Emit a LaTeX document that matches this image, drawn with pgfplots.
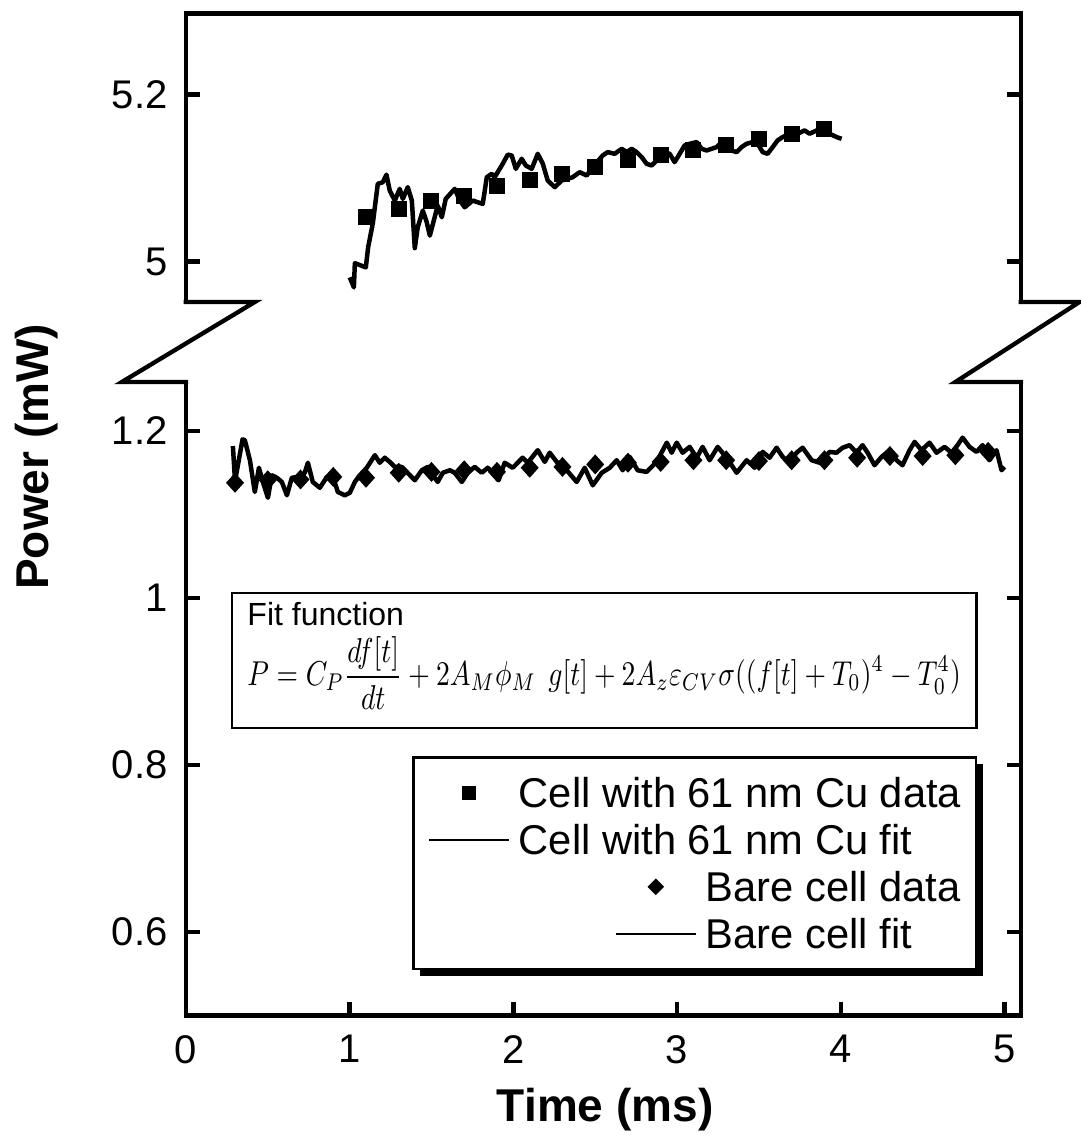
\documentclass[border=0pt]{standalone}
\usepackage{fontspec}
\setmainfont{Liberation Sans}
\usepackage{graphicx}
\usepackage{pgfplots}
\pgfplotsset{compat=1.18}
\usetikzlibrary{shadows}

% offset that puts the upper (5 mW) band just above the lower band
\def\off{3.597}

% legend glyphs, set inside the legend text
\newcommand{\limgbox}[1]{\makebox[24pt]{#1}\hspace{3pt}}
\newcommand{\limgsq}{\limgbox{\raisebox{\dimexpr0.358em-2.1pt}{\rule{4.2pt}{4.2pt}}}}
\newcommand{\limgline}{\limgbox{\rule[\dimexpr0.358em-0.35pt]{24pt}{0.7pt}}}
\newcommand{\limgdia}{\limgbox{\raisebox{\dimexpr0.358em-2.5pt}{\rotatebox{45}{\rule{3.54pt}{3.54pt}}}}}
\newcommand{\lind}{\hspace{56.1pt}}

\begin{document}
\begin{tikzpicture}
\begin{axis}[
  scale only axis,
  width=250.5pt, height=300.6pt,
  xmin=0, xmax=5.1, ymin=0.5, ymax=1.7,
  xtick={0,1,2,3,4,5}, xticklabels={0,1,2,3,4,5},
  ytick={0.6,0.8,1.0,1.2,1.403,1.603},
  yticklabels={0.6,0.8,1,1.2,5,5.2},
  xtick pos=left, ytick pos=both,
  tick align=inside, major tick length=4.2pt,
  every tick/.style={black, line width=1.3pt},
  axis line style={line width=1.3pt},
  tick label style={font=\fontsize{12}{14}\selectfont},
  xticklabel style={yshift=-2.4pt},
  yticklabel style={xshift=-2pt},
  xlabel={Time (ms)}, ylabel={Power (mW)},
  every axis x label/.style={at={(axis cs:2.561,0.387)}, anchor=center,
    font=\bfseries\fontsize{13.8}{16}\selectfont},
  every axis y label/.style={at={(axis cs:-0.91,1.169)}, rotate=90, anchor=center,
    font=\bfseries\fontsize{13.8}{16}\selectfont},
  legend image code/.code={},
  legend cell align=left,
  legend style={at={(axis cs:4.835,0.554)}, anchor=south east,
    draw=black, line width=0.8pt, fill=white,
    inner xsep=4.5pt, inner ysep=3.5pt, row sep=0pt,
    nodes={inner sep=0pt, text height=11.5pt, text depth=2.6pt},
    font=\fontsize{12.5}{15}\selectfont,
    drop shadow={shadow xshift=2pt, shadow yshift=-2pt, fill=black, opacity=1}},
]

% Cell with 61 nm Cu: data
\addplot[only marks, mark=square*, mark size=2.2pt, black]
  table[x=x, y expr=\thisrow{y}-\off] {
x y
1.1 5.053
1.3 5.063
1.5 5.073
1.7 5.079
1.9 5.090
2.1 5.098
2.3 5.105
2.5 5.113
2.7 5.121
2.9 5.127
3.1 5.134
3.3 5.139
3.5 5.147
3.7 5.153
3.9 5.159
};

% Cell with 61 nm Cu: fit
\addplot[black, line width=1.35pt, line join=round, mark=none]
  table[x=x, y expr=\thisrow{y}-\off] {
x y
1.001 4.981
1.026 4.969
1.032 4.998
1.099 4.993
1.113 5.017
1.142 5.046
1.172 5.093
1.203 5.095
1.225 5.104
1.245 5.085
1.276 5.073
1.306 5.087
1.325 5.075
1.355 5.089
1.380 5.073
1.398 5.016
1.416 5.041
1.447 5.061
1.471 5.047
1.490 5.031
1.538 5.067
1.563 5.053
1.587 5.075
1.642 5.087
1.673 5.073
1.703 5.065
1.752 5.073
1.813 5.069
1.838 5.101
1.868 5.105
1.886 5.101
1.935 5.117
1.966 5.128
1.990 5.127
2.015 5.111
2.051 5.123
2.076 5.115
2.112 5.111
2.149 5.129
2.180 5.117
2.210 5.097
2.253 5.089
2.295 5.097
2.363 5.101
2.405 5.107
2.448 5.103
2.485 5.113
2.546 5.127
2.576 5.131
2.619 5.129
2.662 5.135
2.692 5.131
2.723 5.135
2.753 5.131
2.784 5.125
2.814 5.117
2.845 5.115
2.875 5.121
2.912 5.131
2.955 5.129
2.985 5.119
3.016 5.129
3.046 5.139
3.077 5.141
3.120 5.143
3.150 5.135
3.181 5.133
3.211 5.135
3.242 5.137
3.272 5.143
3.303 5.141
3.333 5.133
3.364 5.131
3.394 5.137
3.425 5.141
3.462 5.143
3.492 5.141
3.523 5.131
3.553 5.129
3.584 5.137
3.614 5.145
3.645 5.149
3.687 5.153
3.718 5.151
3.748 5.154
3.779 5.157
3.810 5.153
3.852 5.157
3.889 5.154
3.932 5.153
3.974 5.149
4.005 5.147
};

% Bare cell: data
\addplot[only marks, mark=diamond*, mark size=2.7pt, mark options={xscale=1.2}, black]
  table[x=x, y=y] {
x y
0.3 1.138
0.5 1.141
0.7 1.142
0.9 1.145
1.1 1.144
1.3 1.150
1.5 1.151
1.7 1.153
1.9 1.151
2.1 1.156
2.3 1.157
2.5 1.160
2.7 1.162
2.9 1.163
3.1 1.165
3.3 1.165
3.5 1.164
3.7 1.165
3.9 1.165
4.1 1.168
4.3 1.170
4.5 1.170
4.7 1.171
4.9 1.175
};

% Bare cell: fit
\addplot[black, line width=1.35pt, line join=round, mark=none]
  table[x=x, y=y] {
x y
0.287 1.182
0.300 1.140
0.346 1.190
0.360 1.189
0.391 1.165
0.421 1.127
0.446 1.156
0.470 1.139
0.501 1.120
0.525 1.147
0.556 1.144
0.586 1.139
0.617 1.123
0.647 1.144
0.684 1.145
0.726 1.150
0.745 1.162
0.775 1.139
0.818 1.132
0.861 1.145
0.910 1.138
0.928 1.127
0.971 1.123
1.001 1.126
1.032 1.139
1.062 1.147
1.105 1.156
1.154 1.171
1.184 1.162
1.215 1.168
1.245 1.163
1.276 1.157
1.319 1.157
1.349 1.151
1.398 1.141
1.441 1.153
1.477 1.157
1.508 1.147
1.538 1.139
1.569 1.150
1.612 1.153
1.642 1.150
1.685 1.139
1.722 1.150
1.764 1.157
1.807 1.150
1.844 1.156
1.875 1.150
1.910 1.141
1.947 1.162
1.996 1.156
2.057 1.168
2.088 1.162
2.149 1.177
2.192 1.163
2.222 1.174
2.265 1.163
2.326 1.153
2.387 1.139
2.436 1.156
2.485 1.135
2.540 1.150
2.589 1.156
2.631 1.165
2.668 1.153
2.711 1.169
2.759 1.153
2.814 1.151
2.875 1.163
2.937 1.186
2.967 1.174
2.998 1.186
3.034 1.174
3.077 1.181
3.120 1.168
3.156 1.181
3.199 1.165
3.248 1.181
3.303 1.168
3.364 1.150
3.425 1.165
3.474 1.156
3.523 1.175
3.565 1.168
3.608 1.180
3.645 1.169
3.687 1.162
3.730 1.174
3.767 1.180
3.822 1.165
3.871 1.162
3.932 1.175
3.974 1.174
4.011 1.180
4.054 1.183
4.096 1.174
4.133 1.183
4.164 1.174
4.206 1.159
4.249 1.169
4.298 1.177
4.341 1.165
4.377 1.159
4.420 1.177
4.451 1.187
4.493 1.177
4.542 1.186
4.585 1.174
4.634 1.181
4.676 1.174
4.713 1.183
4.744 1.192
4.786 1.181
4.829 1.175
4.866 1.183
4.908 1.165
4.951 1.177
4.982 1.153
5.000 1.157
};

\legend{\limgsq Cell with 61 nm Cu data,
        \limgline Cell with 61 nm Cu fit,
        \lind\limgdia Bare cell data,
        \lind\limgline Bare cell fit}

% fit function box
\draw[line width=0.7pt] (axis cs:0.281,0.8443) rectangle (axis cs:4.829,1.006);
\node[anchor=base west, inner sep=0pt, font=\fontsize{9.6}{11}\selectfont]
  at (axis cs:0.372,0.9665) {Fit function};
\node[anchor=west, inner sep=0pt] at (axis cs:0.372,0.9105)
  {\scalebox{1}[1.25]{\resizebox{214pt}{!}{$\displaystyle P = C_P\frac{df[t]}{dt} + 2A_M\phi_M\;\, g[t] + 2A_z\varepsilon_{CV}\sigma((f[t]+T_0)^4 - T_0^4)$}}};

% anchors for the axis break and the page frame
\coordinate (la) at (axis cs:0,1.2587);
\coordinate (lb) at (axis cs:0,1.3545);
\coordinate (ra) at (axis cs:5.1,1.2587);
\coordinate (rb) at (axis cs:5.1,1.3545);
\coordinate (lz1) at (axis cs:0.421,1.3545);
\coordinate (lz2) at (axis cs:-0.391,1.2587);
\coordinate (rz1) at (axis cs:5.458,1.3545);
\coordinate (rz2) at (axis cs:4.70,1.2587);
\coordinate (bbA) at (axis cs:-1.1355,0.3557);
\coordinate (bbB) at (axis cs:5.464,1.7162);
\end{axis}

% axis break
\fill[white] ([xshift=-2pt]la) rectangle ([xshift=2pt]lb);
\fill[white] ([xshift=-2pt]ra) rectangle ([xshift=2pt]rb);
\draw[line width=1.3pt, line cap=rect, line join=miter] (lb) -- (lz1) -- (lz2) -- (la);
\draw[line width=1.3pt, line cap=rect, line join=miter] (rb) -- (rz1) -- (rz2) -- (ra);

\pgfresetboundingbox
\path (bbA) rectangle (bbB);
\end{tikzpicture}
\end{document}
